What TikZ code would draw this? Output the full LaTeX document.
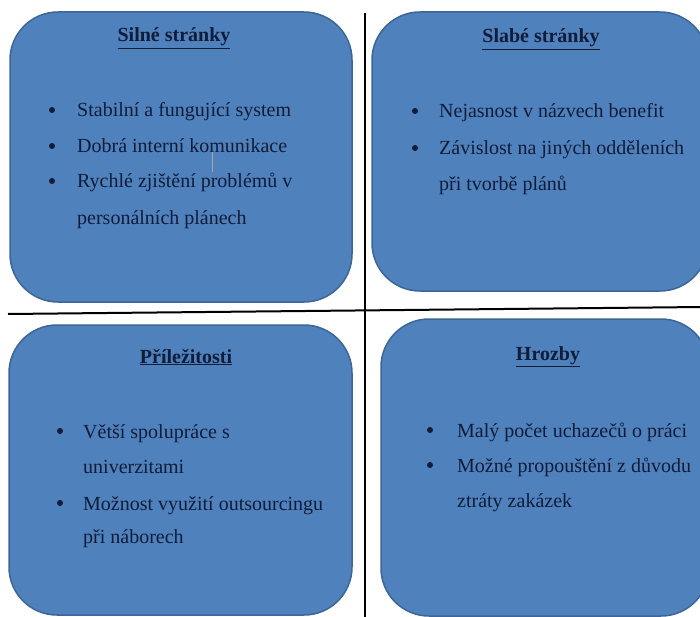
\documentclass[tikz,border=0pt]{standalone}
\usepackage{fontspec}
\setmainfont{Liberation Serif}
\definecolor{boxfill}{HTML}{4F81BD}
\definecolor{boxedge}{HTML}{3D6596}
\definecolor{txt}{HTML}{111C38}
\begin{document}
\begin{tikzpicture}[x=1pt,y=-1pt,
  swotbox/.style={draw=boxedge,line width=1.5pt,fill=boxfill,rounded corners=48pt},
  ttl/.style={anchor=base,inner sep=0pt,text=txt,font=\fontsize{20}{24}\selectfont\bfseries},
  itm/.style={anchor=base west,inner sep=0pt,text=txt,font=\fontsize{20}{24}\selectfont},
  bul/.style={circle,fill=txt,inner sep=0pt,minimum size=6pt},
  divider/.style={draw=black,line width=2pt}]
\useasboundingbox (0,0) rectangle (700,617);
\clip (0,0) rectangle (700,617);
\fill[white] (0,0) rectangle (700,617);
% boxes
\draw[swotbox] (10,12) rectangle (352,302);
\draw[swotbox] (372,12) rectangle (708,291);
\draw[swotbox] (9,325) rectangle (352,615);
\draw[swotbox] (381,319) rectangle (709,616);
% dividers
\coordinate (vtop) at (365,13);
\coordinate (vbot) at (365,620);
\coordinate (hl) at (8,314);
\coordinate (hr) at (702,307);
\draw[divider] (vtop) -- (vbot);
\draw[divider] (hl) -- (hr);
% titles
\node[ttl] (t1) at (174,42) {\underline{Silné stránky}};
\node[ttl] (t2) at (541,43) {\underline{Slabé stránky}};
\node[ttl] (t3) at (186,363) {\underline{Příležitosti}};
\node[ttl] (t4) at (548,360) {\underline{Hrozby}};
% top-left items
\node[bul] (b11) at (52,110) {};
\node[itm] (i11) at (77,117) {Stabilní a fungující system};
\node[bul] (b12) at (52,146) {};
\node[itm] (i12) at (77,153) {Dobrá interní komunikace};
\node[bul] (b13) at (52,181) {};
\node[itm] (i13) at (77,188) {Rychlé zjištění problémů v};
\node[itm] (i14) at (77,225) {personálních plánech};
\draw[gray!70,line width=1pt] (212,152) -- (212,172);
% top-right items
\node[bul] (b21) at (415,111) {};
\node[itm] (i21) at (439,118) {Nejasnost v názvech benefit};
\node[bul] (b22) at (415,148) {};
\node[itm] (i22) at (439,155) {Závislost na jiných odděleních};
\node[itm] (i23) at (439,191) {při tvorbě plánů};
% bottom-left items
\node[bul] (b31) at (60,431) {};
\node[itm] (i31) at (83,438) {Větší spolupráce s};
\node[itm] (i32) at (83,473) {univerzitami};
\node[bul] (b33) at (60,503) {};
\node[itm] (i33) at (83,510) {Možnost využití outsourcingu};
\node[itm] (i34) at (83,543) {při náborech};
% bottom-right items
\node[bul] (b41) at (430,430) {};
\node[itm] (i41) at (457,437) {Malý počet uchazečů o práci};
\node[bul] (b42) at (430,465) {};
\node[itm] (i42) at (457,472) {Možné propouštění z důvodu};
\node[itm] (i43) at (457,507) {ztráty zakázek};
\end{tikzpicture}
\end{document}
